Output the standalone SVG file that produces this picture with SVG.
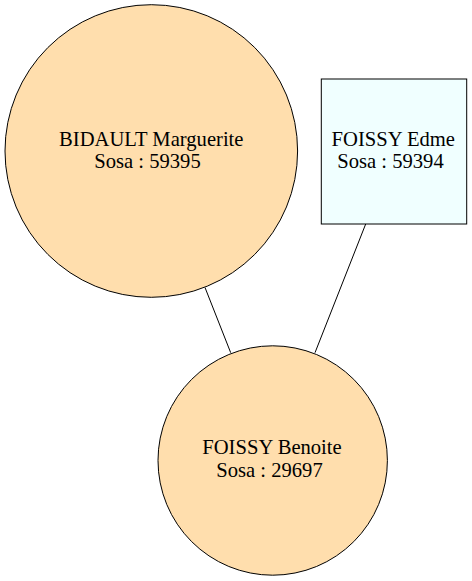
<svg xmlns="http://www.w3.org/2000/svg" width="472" height="581" viewBox="0 0 472 581">
<style>
.n{stroke:#000;stroke-width:1}
.p{fill:#ffdead}
.m{fill:#f0ffff}
.t{font-family:"Liberation Serif","Times New Roman",serif;font-size:20.6px;fill:#000;text-anchor:middle}
.e{stroke:#000;stroke-width:1;fill:none}
</style>
<rect width="472" height="581" fill="#fff"/>
<g id="edges">
<line class="e" x1="205" y1="287.5" x2="230.7" y2="352.7"/>
<line class="e" x1="365.7" y1="224" x2="315" y2="352.7"/>
</g>
<g id="node-bidault">
<circle class="n p" cx="151.3" cy="151" r="146.3"/>
<text class="t" x="151.3" y="145.7">BIDAULT Marguerite</text>
<text class="t" x="147.5" y="168.3">Sosa : 59395</text>
</g>
<g id="node-foissy-edme">
<rect class="n m" x="321.3" y="79" width="145.4" height="145"/>
<text class="t" x="393.3" y="145.7">FOISSY Edme</text>
<text class="t" x="390.5" y="168.3">Sosa : 59394</text>
</g>
<g id="node-foissy-benoite">
<circle class="n p" cx="272.7" cy="460.5" r="114.7"/>
<text class="t" x="272" y="454">FOISSY Benoite</text>
<text class="t" x="269.5" y="477.3">Sosa : 29697</text>
</g>
</svg>
